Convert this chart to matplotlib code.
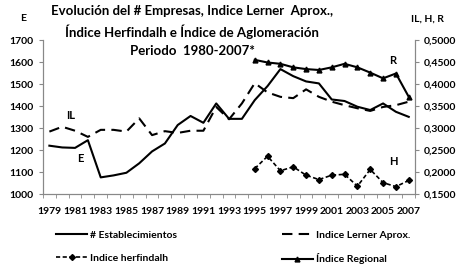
import matplotlib
matplotlib.use('Agg')
import matplotlib.pyplot as plt
import numpy as np

plt.rcParams['font.family'] = ['Lato', 'DejaVu Sans']
plt.rcParams['font.weight'] = 'bold'

# Datos
years = list(range(1979, 2008))
establecimientos = [1220, 1212, 1210, 1245, 1076, 1085, 1097, 1140, 1194, 1230,
                    1314, 1355, 1324, 1412, 1342, 1342, 1427, 1491, 1568, 1536,
                    1512, 1503, 1430, 1423, 1397, 1382, 1412, 1374, 1351]
lerner = [0.292, 0.303, 0.294, 0.280, 0.296, 0.296, 0.292, 0.322, 0.284, 0.293,
          0.289, 0.294, 0.294, 0.348, 0.320, 0.356, 0.402, 0.381, 0.371, 0.368,
          0.388, 0.371, 0.360, 0.352, 0.345, 0.339, 0.348, 0.352, 0.360]
years_late = list(range(1995, 2008))
herfindahl = [0.208, 0.236, 0.203, 0.212, 0.193, 0.183, 0.193, 0.195, 0.168,
              0.206, 0.176, 0.167, 0.181]
regional = [0.455, 0.449, 0.446, 0.438, 0.434, 0.432, 0.438, 0.446, 0.438,
            0.426, 0.413, 0.424, 0.371]

x_all = np.arange(len(years))
x_late = np.array([years.index(y) for y in years_late])

fig = plt.figure(figsize=(4.67, 2.67), dpi=100)
ax = fig.add_axes([0.092, 0.273, 0.797, 0.577])
ax2 = ax.twinx()

l1, = ax.plot(x_all, establecimientos, color='black', lw=1.5)
l2, = ax2.plot(x_all, lerner, color='black', lw=1.5, ls=(0, (5, 3)))
l3, = ax2.plot(x_late, herfindahl, color='black', lw=1.2, ls=(0, (2.5, 1.5)),
               marker='D', ms=3)
l4, = ax2.plot(x_late, regional, color='black', lw=1.5, marker='^', ms=3.5)

ax.set_xlim(-0.5, len(years) - 0.5)
ax.set_ylim(1000, 1700)
ax2.set_ylim(0.15, 0.5)
ax.set_yticks(range(1000, 1701, 100))
ax2.set_yticks(np.arange(0.15, 0.501, 0.05))
ax2.set_yticklabels([f'{v:.4f}'.replace('.', ',') for v in np.arange(0.15, 0.501, 0.05)])

ax.set_xticks(x_all[::2])
ax.set_xticklabels([str(y) for y in years[::2]])
ax.set_xticks(np.arange(-0.5, len(years), 1), minor=True)
ax.tick_params(axis='x', which='major', length=0, pad=9, labelsize=7.5)
ax.tick_params(axis='x', which='minor', length=3, direction='out', color='#888888')
ax.tick_params(axis='y', labelsize=7.5, length=3, color='#888888')
ax2.tick_params(axis='y', labelsize=7.5, length=3, color='#888888')

for a in (ax, ax2):
    a.spines['top'].set_visible(False)
    for s in ('left', 'right', 'bottom'):
        a.spines[s].set_color('#888888')

tr = ax.get_xaxis_transform()
ax.text(1.3, 0.513, 'IL', transform=tr, fontsize=8, fontweight='bold', va='center')
ax.text(2.2, 0.234, 'E', transform=tr, fontsize=8, fontweight='bold', va='center')
ax.text(26.5, 0.87, 'R', transform=tr, fontsize=8, fontweight='bold', va='center')
ax.text(26.5, 0.21, 'H', transform=tr, fontsize=8, fontweight='bold', va='center')

fig.text(0.05, 0.92, 'E', fontsize=7.5, fontweight='bold', ha='center')
fig.text(0.915, 0.92, 'IL, H, R', fontsize=7.5, fontweight='bold', ha='center')
fig.text(0.412, 0.785, 'Evolución del # Empresas, Indice Lerner  Aprox.,\n'
         'Índice Herfindalh e Índice de Aglomeración\nPeriodo  1980-2007*',
         fontsize=9.5, fontweight='bold', ha='center', va='bottom', linespacing=1.6)

fig.legend([l1, l3, l2, l4],
           ['# Establecimientos', 'Indice herfindalh', 'Indice Lerner Aprox.', 'Índice Regional'],
           loc='lower left', bbox_to_anchor=(0.1, -0.025), ncol=2, frameon=False,
           fontsize=7.5, handlelength=3, columnspacing=10, labelspacing=1.3,
           handletextpad=0.3)

fig.savefig('out.png', dpi=100)
